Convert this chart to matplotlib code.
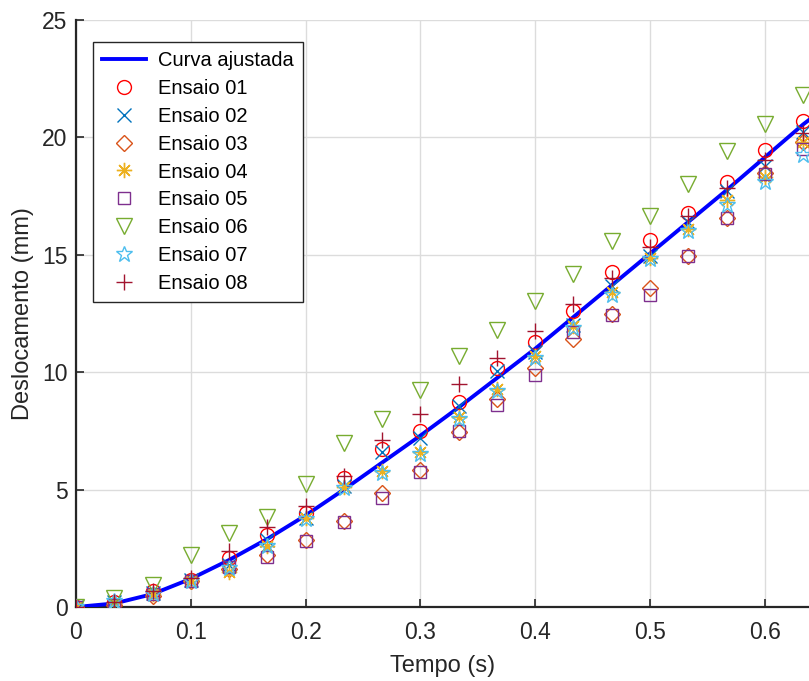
import numpy as np
import matplotlib
matplotlib.use('Agg')
import matplotlib.pyplot as plt

plt.rcParams['font.family'] = ['Liberation Sans', 'DejaVu Sans']

# Time samples (s): 30 fps, 20 frames
t = np.arange(20) / 30

# Fitted curve (last point at the right edge)
curve_t = list(t) + [0.64]
curve_y = [0, 0.15, 0.55, 1.2, 2.0, 2.9, 3.9, 5.0, 6.15, 7.3, 8.5, 9.75,
           11.0, 12.35, 13.7, 15.05, 16.4, 17.75, 19.15, 20.55, 20.8]

# Measured displacements (mm)
ensaio01 = [0, 0.2, 0.7, 1.15, 2.1, 3.05, 4.0, 5.5, 6.75, 7.5, 8.75, 10.2,
            11.3, 12.6, 14.25, 15.65, 16.8, 18.1, 19.45, 20.7]
ensaio02 = [0, 0.2, 0.6, 1.15, 1.8, 2.85, 3.8, 5.15, 6.6, 7.2, 8.55, 10.05,
            10.85, 12.0, 13.65, 14.95, 16.4, 17.7, 18.8, 20.25]
ensaio03 = [0, 0.1, 0.45, 1.1, 1.6, 2.2, 2.85, 3.65, 4.85, 5.85, 7.45, 8.85,
            10.2, 11.4, 12.5, 13.6, 14.95, 16.55, 18.5, 19.8]
ensaio04 = [0, 0.15, 0.55, 1.1, 1.5, 2.6, 3.8, 5.1, 5.8, 6.6, 8.1, 9.3,
            10.7, 11.95, 13.4, 14.85, 16.1, 17.35, 18.3, 19.8]
ensaio05 = [0, 0.1, 0.55, 1.1, 1.7, 2.15, 2.8, 3.6, 4.65, 5.75, 7.5, 8.6,
            9.9, 11.7, 12.45, 13.3, 14.95, 16.55, 18.45, 19.5]
ensaio06 = [0, 0.4, 0.95, 2.2, 3.15, 3.85, 5.25, 7.0, 8.0, 9.25, 10.7, 11.8,
            13.05, 14.2, 15.6, 16.65, 18.0, 19.4, 20.55, 21.8]
ensaio07 = [0, 0.25, 0.55, 1.1, 1.65, 2.6, 3.75, 5.05, 5.7, 6.5, 8.0, 9.2,
            10.6, 11.9, 13.3, 14.8, 16.0, 17.1, 18.1, 19.25]
ensaio08 = [0, 0.2, 0.7, 1.25, 2.4, 3.4, 4.3, 5.6, 7.1, 8.2, 9.5, 10.6,
            11.75, 12.9, 14.0, 15.35, 16.65, 17.85, 19.05, 20.2]

series = [ensaio01, ensaio02, ensaio03, ensaio04,
          ensaio05, ensaio06, ensaio07, ensaio08]
names = ['Ensaio 01', 'Ensaio 02', 'Ensaio 03', 'Ensaio 04',
         'Ensaio 05', 'Ensaio 06', 'Ensaio 07', 'Ensaio 08']
markers = ['o', 'x', 'D', (8, 2, 0), 's', 'v', '*', '+']
colors = ['#FF0000', '#0072BD', '#D95319', '#EDB120',
          '#7E2F8E', '#77AC30', '#4DBEEE', '#A2142F']
sizes = [10, 10, 8, 11, 8, 11, 12, 12]

xticks = [0, 0.1, 0.2, 0.3, 0.4, 0.5, 0.6]
xticklabels = ['0', '0.1', '0.2', '0.3', '0.4', '0.5', '0.6']
yticks = [0, 5, 10, 15, 20, 25]

fig = plt.figure(figsize=(8.09, 6.81), dpi=100)
ax = fig.add_axes([76 / 809, 74 / 681, 733 / 809, 587 / 681])

ax.plot(curve_t, curve_y, color='#0000FF', lw=2.8, label='Curva ajustada', zorder=3)
for ys, nm, mk, c, ms in zip(series, names, markers, colors, sizes):
    ax.plot(t, ys, linestyle='none', marker=mk, markersize=ms,
            markerfacecolor='none', markeredgecolor=c, markeredgewidth=1.0,
            label=nm, zorder=4)

ax.set_xlim(0, 0.6385)
ax.set_ylim(0, 25)
ax.set_xticks(xticks)
ax.set_xticklabels(xticklabels)
ax.set_yticks(yticks)
ax.tick_params(direction='in', length=6, width=1.2, labelsize=16.5,
               colors='#262626')
ax.tick_params(axis='x', pad=10)
ax.tick_params(axis='y', pad=6)
ax.grid(True, color='#dcdcdc', lw=1.0)
ax.set_axisbelow(True)
for s in ['top', 'right']:
    ax.spines[s].set_visible(False)
for s in ['left', 'bottom']:
    ax.spines[s].set_color('#262626')
    ax.spines[s].set_linewidth(1.6)

ax.set_xlabel('Tempo (s)', fontsize=17, color='#262626', labelpad=8)
ax.set_ylabel('Deslocamento (mm)', fontsize=17, color='#262626', labelpad=6)

leg = ax.legend(loc='upper left', bbox_to_anchor=(17 / 733, 1 - 22 / 587),
                borderaxespad=0, fontsize=14.5, fancybox=False,
                edgecolor='#262626', framealpha=1, handlelength=2.2,
                labelspacing=0.44, borderpad=0.45, handletextpad=0.6)
leg.get_frame().set_linewidth(1.0)

fig.savefig('out.png', dpi=100)
